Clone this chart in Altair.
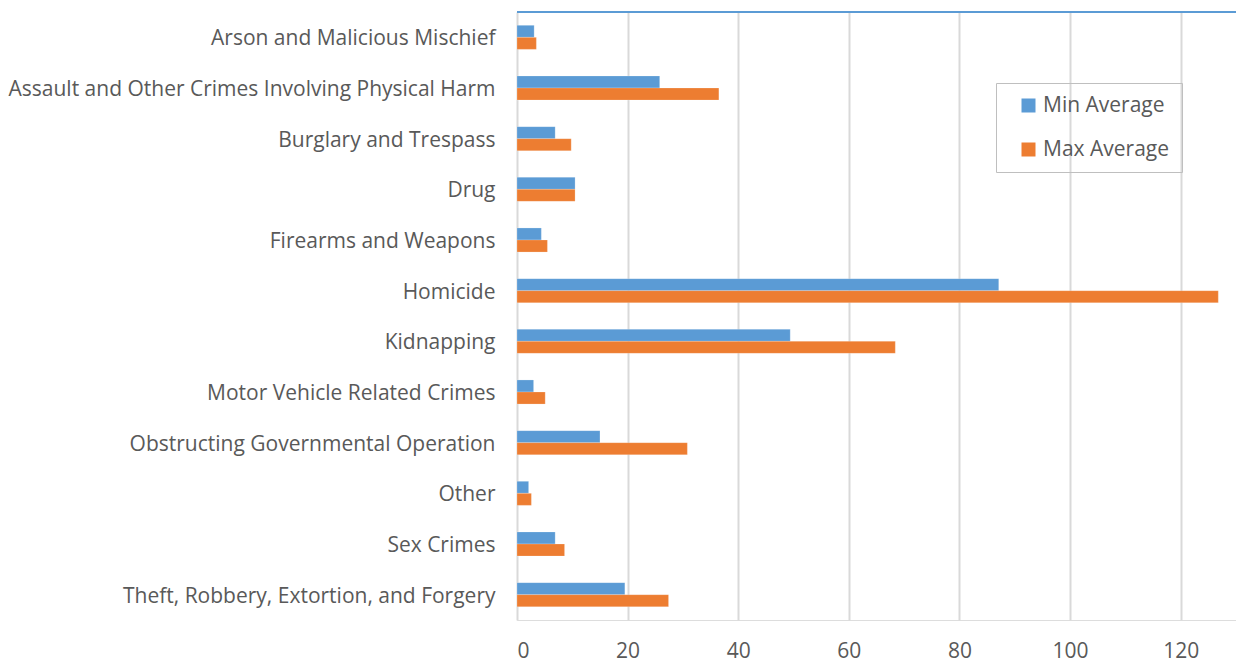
import altair as alt
import pandas as pd

categories = [
    "Arson and Malicious Mischief",
    "Assault and Other Crimes Involving Physical Harm",
    "Burglary and Trespass",
    "Drug",
    "Firearms and Weapons",
    "Homicide",
    "Kidnapping",
    "Motor Vehicle Related Crimes",
    "Obstructing Governmental Operation",
    "Other",
    "Sex Crimes",
    "Theft, Robbery, Extortion, and Forgery",
]
min_average = [3.1, 25.8, 6.9, 10.5, 4.4, 87.1, 49.4, 3.0, 15.0, 2.1, 6.9, 19.5]
max_average = [3.5, 36.5, 9.8, 10.5, 5.5, 126.8, 68.4, 5.1, 30.8, 2.6, 8.6, 27.4]
series = ["Min Average", "Max Average"]
colors = ["#5B9BD5", "#ED7D31"]
x_ticks = [0, 20, 40, 60, 80, 100, 120]

rows = []
for c, mn, mx in zip(categories, min_average, max_average):
    rows.append({"category": c, "series": series[0], "value": mn})
    rows.append({"category": c, "series": series[1], "value": mx})
df = pd.DataFrame(rows)

W, H = 719, 608
FONT = "Open Sans"
TXT = "#595959"

bars = alt.Chart(df).mark_bar(stroke="white", strokeWidth=0.5, strokeOpacity=0.4).encode(
    y=alt.Y("category:N", sort=categories,
            scale=alt.Scale(paddingInner=0.525, paddingOuter=0.2625),
            axis=alt.Axis(title=None, domain=False, ticks=False, labelPadding=22,
                          labelOffset=2,
                          labelFontSize=21, labelFont=FONT, labelColor=TXT, labelLimit=600)),
    yOffset=alt.YOffset("series:N", sort=series),
    x=alt.X("value:Q", scale=alt.Scale(domain=[0, 130], nice=False),
            axis=alt.Axis(title=None, values=x_ticks, domain=False, ticks=False,
                          grid=True, gridColor="#D9D9D9", gridWidth=2,
                          labelPadding=20, labelFontSize=21, labelFont=FONT, labelColor=TXT)),
    color=alt.Color("series:N", sort=series,
                    scale=alt.Scale(domain=series, range=colors),
                    legend=alt.Legend(title=None, orient="none", legendX=479, legendY=71,
                                      labelFontSize=21, labelFont=FONT, labelColor=TXT,
                                      symbolType="square", symbolSize=196,
                                      symbolStrokeWidth=0, rowPadding=22,
                                      padding=12, symbolOffset=10,
                                      strokeColor="#BFBFBF", labelOffset=4)),
)

topline = alt.Chart(pd.DataFrame({"a": [0]})).mark_rule(color="#5B9BD5", strokeWidth=2).encode(
    x=alt.value(0), x2=alt.value(W), y=alt.value(0)
)

chart = alt.layer(bars, topline).properties(
    width=W, height=H,
    autosize=alt.AutoSizeParams(type="none"),
    padding={"left": 517, "top": 12, "right": 0, "bottom": 43},
).configure_view(stroke=None).configure(background="white")

chart.save("out.html", embed_options={"renderer": "svg", "actions": False})
